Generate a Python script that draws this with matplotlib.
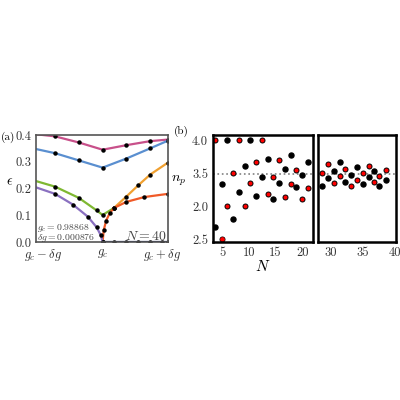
import numpy as np
import matplotlib.pyplot as plt

plt.rcParams['font.family'] = 'serif'
plt.rcParams['font.serif'] = ['cmr10', 'DejaVu Serif']
plt.rcParams['mathtext.fontset'] = 'cm'
plt.rcParams['axes.unicode_minus'] = False

# panel (a): spectrum near g_c (x in units of delta g)
pink_x = [-1.17, -0.8, -0.4, 0.0, 0.4, 0.8, 1.1]
pink_y = [0.404, 0.395, 0.372, 0.345, 0.362, 0.377, 0.383]
blue_x = [-1.17, -0.8, -0.4, 0.0, 0.4, 0.8, 1.1]
blue_y = [0.350, 0.332, 0.305, 0.278, 0.312, 0.350, 0.379]
green_x = [-1.17, -0.8, -0.4, -0.1, 0.0, 0.19]
green_y = [0.231, 0.207, 0.165, 0.118, 0.101, 0.127]
orange_x = [0.19, 0.4, 0.6, 0.8, 1.1]
orange_y = [0.127, 0.170, 0.212, 0.252, 0.297]
red_x = [0.0, 0.02, 0.06, 0.12, 0.19, 0.4, 0.7, 1.1]
red_y = [0.0, 0.045, 0.080, 0.108, 0.127, 0.150, 0.168, 0.180]
purple_x = [-1.17, -0.8, -0.5, -0.25, -0.1, -0.03, 0.0]
purple_y = [0.208, 0.180, 0.140, 0.095, 0.055, 0.025, 0.0]
zero_x = [0.0, 0.2, 0.4, 0.6, 0.8, 1.0, 1.1]
zero_y = [0.0, 0.0, 0.0, 0.0, 0.0, 0.0, 0.0]

# panel (b): n_p vs N (y in axis position units; tick labels as printed)
blk_N_left = [3.75, 4.9, 6.0, 7.1, 8.1, 9.2, 10.3, 11.4, 12.4, 13.5, 14.6, 15.7, 16.75, 17.8, 18.9, 20.0, 21.1]
blk_y_left = [1.36, 2.68, 4.0, 1.62, 2.43, 3.22, 4.0, 2.30, 2.87, 3.44, 2.23, 2.69, 3.12, 3.56, 2.58, 2.94, 3.32]
red_N_left = blk_N_left
red_y_left = [4.0, 1.0, 2.00, 3.01, 4.0, 2.00, 2.69, 3.35, 4.0, 2.37, 2.87, 3.39, 2.29, 2.67, 3.09, 2.21, 2.56]
blk_N_right = [28.7, 29.6, 30.5, 31.45, 32.3, 33.2, 34.1, 35.0, 35.9, 36.8, 37.6, 38.6]
blk_y_right = [2.61, 2.84, 3.07, 3.32, 2.74, 2.95, 3.17, 2.67, 2.87, 3.07, 2.62, 2.79]
red_N_right = blk_N_right
red_y_right = [3.01, 3.28, 2.69, 2.91, 3.12, 2.61, 2.80, 3.01, 3.22, 2.74, 2.91, 3.10]
np_ticks = [4.0, 3.0, 2.0, 1.0]
np_labels = ['4.0', '3.5', '2.0', '2.5']
np_ref = 2.96

fig = plt.figure(figsize=(4, 4), dpi=100)
ax = fig.add_axes([0.09, 0.395, 0.33, 0.2675])
for xs, ys, c in [(pink_x, pink_y, '#c8508a'), (blue_x, blue_y, '#5a8fd0'),
                  (green_x, green_y, '#7fb832'), (orange_x, orange_y, '#f0a030'),
                  (red_x, red_y, '#f05a28'), (purple_x, purple_y, '#8a70c0'),
                  (zero_x, zero_y, '#1f2a60')]:
    ax.plot(xs, ys, color=c, lw=1.6)
    ax.plot(xs, ys, 'o', color='black', ms=2.2, ls='none')
ax.set_xlim(-1.12, 1.1)
ax.set_ylim(0, 0.4)
ax.set_xticks([-1, 0, 1])
ax.set_xticklabels([r'$g_c-\delta g$', r'$g_c$', r'$g_c+\delta g$'])
ax.set_yticks([0, 0.1, 0.2, 0.3, 0.4])
ax.set_yticklabels(['0.0', '0.1', '0.2', '0.3', '0.4'])
ax.set_ylabel(r'$\epsilon$', rotation=0, labelpad=4, fontsize=10)
ax.tick_params(direction='in', length=0, labelsize=9, colors='#333333')
for s in ax.spines.values():
    s.set_color('#555555'); s.set_linewidth(1.2)
ax.text(-1.1, 0.045, r'$g_c=0.98868$', fontsize=7, color='#444444')
ax.text(-1.1, 0.008, r'$\delta g=0.000876$', fontsize=7, color='#444444')
ax.text(1.08, 0.008, r'$N=40$', fontsize=10, ha='right', color='#444444')
fig.text(0.002, 0.65, '(a)', fontsize=8)

b1 = fig.add_axes([0.5325, 0.395, 0.25, 0.2675])
b2 = fig.add_axes([0.795, 0.395, 0.195, 0.2675])
for b, bN, by, rN, ry, xl in [(b1, blk_N_left, blk_y_left, red_N_left, red_y_left, (3.3, 22.0)),
                              (b2, blk_N_right, blk_y_right, red_N_right, red_y_right, (28.0, 40.2))]:
    b.axhline(np_ref, color='gray', ls=':', lw=1.2)
    b.plot(bN, by, 'o', color='black', ms=3.6, ls='none')
    b.plot(rN, ry, 'o', color='red', mec='black', mew=0.7, ms=3.6, ls='none')
    b.set_xlim(*xl)
    b.set_ylim(0.92, 4.15)
    b.tick_params(direction='in', length=0, labelsize=9, colors='#333333')
    for s in b.spines.values():
        s.set_linewidth(1.8)
b1.plot([red_N_left[1]], [red_y_left[1]], 'o', color='red', ms=2.2)
b1.set_xticks([5, 10, 15, 20])
b1.set_yticks(np_ticks)
b1.set_yticklabels(np_labels)
b1.set_ylabel(r'$n_p$', rotation=0, labelpad=10, fontsize=10)
b1.set_xlabel(r'$N$', fontsize=11, labelpad=0)
b2.set_xticks([30, 35, 40])
b2.set_yticks([])
fig.text(0.435, 0.665, '(b)', fontsize=8)

fig.savefig('out.png', dpi=100)
